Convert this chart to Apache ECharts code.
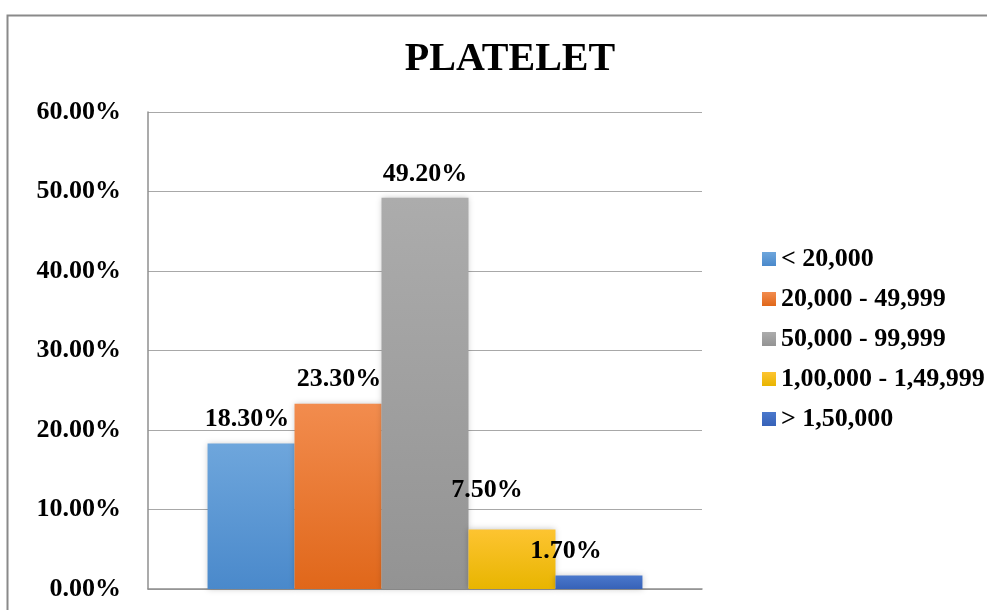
<!DOCTYPE html>
<html>
<head>
<meta charset="utf-8">
<title>PLATELET</title>
<script src="https://cdn.jsdelivr.net/npm/echarts@6/dist/echarts.min.js"></script>
<style>
  html, body { margin: 0; padding: 0; background: #fff; }
  #chart { width: 987px; height: 610px; }
</style>
</head>
<body>
<div id="chart"></div>
<script>
// Platelet count ranges and the share of patients in each
const ranges = ['< 20,000', '20,000 - 49,999', '50,000 - 99,999', '1,00,000 - 1,49,999', '> 1,50,000'];
const percents = [18.3, 23.3, 49.2, 7.5, 1.7];
const categories = ['PLATELET'];

// Bar fills (top colour, bottom colour)
const fills = [
  ['#6ea6dc', '#4a89cb'],
  ['#f28c4e', '#e0671a'],
  ['#acacac', '#939393'],
  ['#fdc431', '#e8b500'],
  ['#4a78cc', '#3762b8']
];
// Nudges for the value labels
const labelOffsets = [[-4, 0], [1, 0], [0, 0], [-25, -15], [-33, 0]];

const serif = '"Liberation Serif", "Times New Roman", serif';

const series = ranges.map((name, i) => ({
  name: name,
  type: 'bar',
  barGap: '0%',
  barCategoryGap: '21.5%',
  data: [percents[i]],
  itemStyle: {
    color: new echarts.graphic.LinearGradient(0, 0, 0, 1, [
      { offset: 0, color: fills[i][0] },
      { offset: 1, color: fills[i][1] }
    ]),
    shadowBlur: 6,
    shadowColor: 'rgba(0,0,0,0.22)'
  },
  label: {
    show: true,
    position: 'top',
    distance: 11,
    offset: labelOffsets[i],
    formatter: p => p.value.toFixed(2) + '%',
    fontFamily: serif,
    fontWeight: 'bold',
    fontSize: 26,
    color: '#000'
  }
}));

const chart = echarts.init(document.getElementById('chart'));
chart.setOption({
  backgroundColor: '#fff',
  animation: false,
  graphic: [{
    type: 'rect',
    left: 5,
    top: 13,
    shape: { width: 1100, height: 800 },
    style: { fill: 'none', stroke: '#8a8a8a', lineWidth: 2 },
    silent: true,
    z: -1
  }],
  title: {
    text: 'PLATELET',
    left: 505,
    textAlign: 'center',
    top: 35,
    textStyle: { fontFamily: serif, fontWeight: 'bold', fontSize: 40, color: '#000' }
  },
  legend: {
    orient: 'vertical',
    left: 757,
    top: 241,
    itemWidth: 14,
    itemHeight: 14,
    itemGap: 14,
    icon: 'rect',
    textStyle: { fontFamily: serif, fontWeight: 'bold', fontSize: 26, color: '#000' },
    data: ranges
  },
  grid: { left: 148, right: 285, top: 112, bottom: 21, containLabel: false },
  xAxis: {
    type: 'category',
    data: categories,
    axisLine: { lineStyle: { color: '#8f8f8f', width: 1.5 } },
    axisTick: { show: false },
    axisLabel: { show: false }
  },
  yAxis: {
    type: 'value',
    min: 0,
    max: 60,
    interval: 10,
    axisLine: { show: true, lineStyle: { color: '#8f8f8f', width: 1.5 } },
    axisTick: { show: false },
    splitLine: { lineStyle: { color: '#a8a8a8', width: 1.2 } },
    axisLabel: {
      formatter: v => v.toFixed(2) + '%',
      fontFamily: serif,
      fontWeight: 'bold',
      fontSize: 26,
      color: '#000',
      margin: 27
    }
  },
  series: series
});
</script>
</body>
</html>
